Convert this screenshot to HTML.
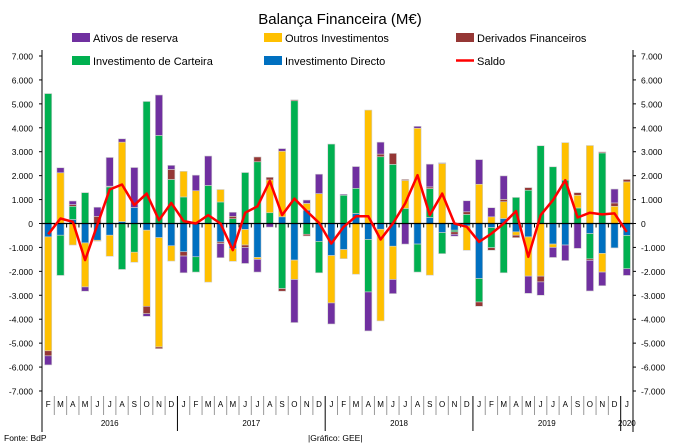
<!DOCTYPE html>
<html><head><meta charset="utf-8"><style>
body{margin:0;background:#fff;}
svg{display:block;font-family:"Liberation Sans",sans-serif;}
</style></head><body>
<svg id="chart" width="680" height="448" xmlns="http://www.w3.org/2000/svg">
<text x="340" y="24" text-anchor="middle" font-size="15" fill="#000">Balança Financeira (M€)</text>
<g font-size="11" fill="#000">
<g><rect x="72" y="33" width="18" height="9" fill="#7030a0"/><text x="93" y="42">Ativos de reserva</text></g>
<g><rect x="264" y="33" width="18" height="9" fill="#ffc000"/><text x="285" y="42">Outros Investimentos</text></g>
<g><rect x="456" y="33" width="18" height="9" fill="#953735"/><text x="477" y="42">Derivados Financeiros</text></g>
<g><rect x="72" y="56" width="18" height="9" fill="#00b050"/><text x="93" y="65">Investimento de Carteira</text></g>
<g><rect x="264" y="56" width="18" height="9" fill="#0070c0"/><text x="285" y="65">Investimento Directo</text></g>
<g><line x1="456" y1="60.5" x2="474" y2="60.5" stroke="#ff0000" stroke-width="2.5"/><text x="477" y="65">Saldo</text></g>
</g>
<g id="plot"></g>
<text x="4" y="441" font-size="8.5">Fonte: BdP</text>
<text x="308" y="441" font-size="8.5">|Gráfico: GEE|</text>
</svg>
<script>
const months = ["F","M","A","M","J","J","A","S","O","N","D","J","F","M","A","M","J","J","A","S","O","N","D","J","F","M","A","M","J","J","A","S","O","N","D","J","F","M","A","M","J","J","A","S","O","N","D","J"];
const years = ["2016","2017","2018","2019","2020"];
const yTicks = [7000,6000,5000,4000,3000,2000,1000,0,-1000,-2000,-3000,-4000,-5000,-6000,-7000];
const directo  = [-560,-490,170,-810,-700,-490,80,670,-280,-590,-930,-1180,-1390,0,-770,-1050,-250,-1420,0,280,-1530,560,-750,-1340,-1090,420,-670,-240,-950,0,-860,250,-380,-280,-100,-2300,-170,210,-350,-560,0,-860,-900,0,-420,-1250,-1020,-500];
const carteira = [5430,-1680,550,1290,0,1530,-1920,-1200,5100,3680,1840,1110,-640,1590,900,200,2130,2580,450,-2720,5130,-450,-1310,3320,1180,1050,-2190,2790,2470,630,-1170,1210,-880,-70,380,-980,-840,-2060,1090,1390,3250,2370,1810,650,-1060,2950,0,-1390];
const outros   = [-4760,2120,-900,-1840,-40,-880,3320,-420,-3180,-4570,-640,1070,1370,-2450,520,-530,-650,-80,1370,2740,-810,280,1250,-1980,-380,-2120,4740,-3830,-1390,1170,3980,-2160,2510,0,-1020,1640,280,700,-140,-1640,-2200,-140,1570,530,3260,-780,720,1740];
const derivados= [-210,0,70,0,300,30,0,0,-310,-70,420,-180,0,0,-70,100,-100,200,110,-110,40,-70,0,0,0,0,0,110,460,40,0,70,0,-100,110,-180,-110,100,-100,110,-240,0,0,110,-60,40,140,100];
const reserva  = [-380,210,150,-180,380,1200,140,1670,-110,1690,170,-700,650,1230,-590,170,-670,-530,-150,110,-1800,140,810,-880,40,910,-1630,500,-590,-860,80,950,30,-80,460,1030,380,980,0,-720,-560,-420,-650,-1040,-1280,-570,580,-280];
const saldo    = [-450,210,70,-1530,-50,1420,1630,770,1250,140,860,100,0,350,0,-1110,450,720,1780,350,1040,520,30,-840,-140,300,300,-670,0,840,2020,350,1250,0,-140,-770,-420,0,520,-1390,350,980,1810,250,450,380,420,-350];

const NS="http://www.w3.org/2000/svg";
const plot=document.getElementById('plot');
const X0=42,X1=633,Y7=56,Yn7=391;
const n=months.length, step=(X1-X0)/n, bw=7.2;
function y(v){return Y7+(7000-v)*(Yn7-Y7)/14000;}
function xc(i){return X0+step*(i+0.5);}
function mk(tag,attrs,parent){const e=document.createElementNS(NS,tag);for(const k in attrs)e.setAttribute(k,attrs[k]);(parent||plot).appendChild(e);return e;}
function fmt(v){const s=Math.abs(v).toString();const t=s.length>3?s.slice(0,s.length-3)+"."+s.slice(-3):s;return (v<0?"-":"")+t;}

// axes labels
yTicks.forEach(v=>{
  const l=mk('text',{x:33,y:y(v)+3.5,'text-anchor':'end','font-size':'8.5',fill:'#000'});
  
  
  l.textContent=fmt(v);
  const r=mk('text',{x:641,y:y(v)+3.5,'text-anchor':'start','font-size':'8.5',fill:'#000'});
  
  
  r.textContent=fmt(v);
  mk('line',{x1:X0-3,x2:X0,y1:y(v),y2:y(v),stroke:'#000','stroke-width':1});
  mk('line',{x1:X1,x2:X1+3,y1:y(v),y2:y(v),stroke:'#000','stroke-width':1});
});

// bars
const series=[[directo,'#0070c0','directo'],[carteira,'#00b050','carteira'],[outros,'#ffc000','outros'],[derivados,'#953735','derivados'],[reserva,'#7030a0','reserva']];
for(let i=0;i<n;i++){
  let pos=0,neg=0;
  series.forEach(([arr,col,nm])=>{
    const v=arr[i]; if(!v) return;
    let a,b;
    if(v>0){a=pos;b=pos+v;pos=b;}else{a=neg;b=neg+v;neg=b;}
    const r=mk('rect',{x:xc(i)-bw/2,y:Math.min(y(a),y(b)),width:bw,height:Math.abs(y(a)-y(b)),fill:col,stroke:'#d0d0d0','stroke-width':0.6});
    
    
  });
}
// axes lines
const la=mk('line',{x1:X0,x2:X0,y1:50,y2:432,stroke:'#000','stroke-width':1});


const ra=mk('line',{x1:X1,x2:X1,y1:50,y2:432,stroke:'#000','stroke-width':1});


const za=mk('line',{x1:X0,x2:X1,y1:y(0),y2:y(0),stroke:'#000','stroke-width':1.3});


for(let i=1;i<n;i++){mk('line',{x1:X0+step*i,x2:X0+step*i,y1:y(0),y2:y(0)+4,stroke:'#000','stroke-width':1});}

// saldo line
let d='';
saldo.forEach((v,i)=>{d+=(i?'L':'M')+xc(i).toFixed(1)+' '+y(v).toFixed(1);});
const sl=mk('path',{d:d,fill:'none',stroke:'#ff0000','stroke-width':2.5,'stroke-linejoin':'round'});



// month labels & separators
const yearStarts=[0,11,23,35,47];
months.forEach((m,i)=>{
  const t=mk('text',{x:xc(i),y:407,'text-anchor':'middle','font-size':'8',fill:'#000'});
  
  
  t.textContent=m;
  if(i>0){const yr=yearStarts.includes(i);mk('line',{x1:X0+step*i,x2:X0+step*i,y1:396,y2:yr?431:415,stroke:yr?'#000':'#999','stroke-width':1});}
});
years.forEach((yr,k)=>{
  const s=yearStarts[k], e=(k<4?yearStarts[k+1]:n);
  const t=mk('text',{x:X0+step*(s+e)/2,y:426,'text-anchor':'middle','font-size':'8',fill:'#000'});
  
  
  t.textContent=yr;
});
</script>
</body></html>
